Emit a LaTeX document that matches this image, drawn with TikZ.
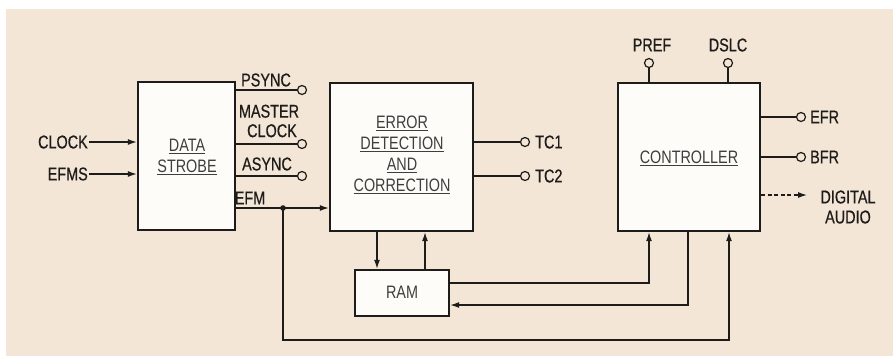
\documentclass[tikz,border=0pt]{standalone}
\usepackage{fontspec}
\setmainfont{Liberation Sans}[FakeStretch=0.8]
\newfontfamily\lblfont{Liberation Sans}[FakeStretch=0.78,FakeBold=0.6]
\usetikzlibrary{arrows.meta}
\definecolor{bg}{RGB}{243,230,214}
\definecolor{ink}{RGB}{30,28,26}
\definecolor{boxfill}{RGB}{253,252,248}
\begin{document}
\begin{tikzpicture}[x=1pt,y=-1pt,
 box/.style={draw=ink, line width=2.4pt, fill=boxfill, inner sep=0pt},
 lbl/.style={font=\lblfont\fontsize{18.5}{20}\selectfont, text=ink, inner sep=1pt},
 btxt/.style={font=\fontsize{18}{21}\selectfont, text=ink!85, align=center, inner sep=0pt},
 wire/.style={draw=ink, line width=1.2pt},
 arr/.style={wire, -{Latex[length=9pt,width=6pt]}},
 pin/.style={circle, draw=ink, line width=1.2pt, fill=bg, minimum size=9pt, inner sep=0pt},
]
\useasboundingbox (0,0) rectangle (896,359);
\fill[white] (0,0) rectangle (896,359);
\fill[bg] (6,9) rectangle (893,356);

% boxes
\node[box, minimum width=97pt, minimum height=148pt] (ds) at (186.5,156) {};
\node[btxt] (dstxt) at (187,157) {\underline{DATA}\\\underline{STROBE}};
\node[box, minimum width=143pt, minimum height=148pt] (err) at (401.5,157) {};
\node[btxt] (errtxt) at (402,155) {\underline{ERROR}\\\underline{DETECTION}\\\underline{AND}\\\underline{CORRECTION}};
\node[box, minimum width=142pt, minimum height=148pt] (ctrl) at (689,157) {};
\node[btxt] (ctrltxt) at (689,158) {\underline{CONTROLLER}};
\node[box, minimum width=94pt, minimum height=46pt] (ram) at (402,293) {};
\node[btxt] (ramtxt) at (402,292) {RAM};

% inputs
\node[lbl, anchor=east] (clk) at (89,142) {CLOCK};
\node[lbl, anchor=east] (efms) at (89,174) {EFMS};
\draw[arr] (clk) -- (ds.west |- clk);
\draw[arr] (efms) -- (ds.west |- efms);

% data strobe outputs
\node[pin] (ps) at (302,90) {};
\node[pin] (mc) at (302,144) {};
\node[pin] (as) at (302,176) {};
\draw[wire] (ds.east |- ps) -- (ps);
\draw[wire] (ds.east |- mc) -- (mc);
\draw[wire] (ds.east |- as) -- (as);
\node[lbl] (pstxt) at (266,80) {PSYNC};
\node[lbl, align=center, font=\lblfont\fontsize{18.5}{19.5}\selectfont] (mctxt) at (269,121) {MASTER\\\hspace*{6pt}CLOCK};
\node[lbl] (astxt) at (267,164) {ASYNC};
\node[lbl] (efmtxt) at (250,198) {EFM};

\coordinate (dot) at (283,208);
\draw[wire] (ds.east |- dot) -- (dot);
\draw[arr] (dot) -- (err.west |- dot);
\fill[ink] (dot) circle (2.8pt);

% error outputs
\node[pin] (tc1) at (525,142) {};
\node[pin] (tc2) at (525,176) {};
\draw[wire] (err.east |- tc1) -- (tc1);
\draw[wire] (err.east |- tc2) -- (tc2);
\node[lbl, anchor=west] (tc1txt) at (534,142) {TC1};
\node[lbl, anchor=west] (tc2txt) at (534,176) {TC2};

% error <-> RAM
\coordinate (x1) at (377,0);
\coordinate (x2) at (425,0);
\draw[arr] (err.south -| x1) -- (ram.north -| x1);
\draw[arr] (ram.north -| x2) -- (err.south -| x2);

% RAM <-> controller
\coordinate (r1) at (649,283);
\coordinate (r2) at (688,305);
\draw[arr] (ram.east |- r1) -- (r1) -- (r1 |- ctrl.south);
\draw[arr] (r2 |- ctrl.south) -- (r2) -- (ram.east |- r2);

% EFM bus to controller
\coordinate (b1) at (283,340);
\coordinate (b2) at (729,340);
\draw[arr] (dot) -- (b1) -- (b2) -- (b2 |- ctrl.south);

% controller top pins
\node[pin] (pref) at (649,63) {};
\node[pin] (dslc) at (728,63) {};
\draw[wire] (pref) -- (pref |- ctrl.north);
\draw[wire] (dslc) -- (dslc |- ctrl.north);
\node[lbl] (preftxt) at (652,45) {PREF};
\node[lbl] (dslctxt) at (728,45) {DSLC};

% controller outputs
\node[pin] (efr) at (801,117) {};
\node[pin] (bfr) at (801,157) {};
\draw[wire] (ctrl.east |- efr) -- (efr);
\draw[wire] (ctrl.east |- bfr) -- (bfr);
\node[lbl, anchor=west] (efrtxt) at (809,117) {EFR};
\node[lbl, anchor=west] (bfrtxt) at (809,157) {BFR};
\coordinate (da) at (807,195);
\draw[arr, dash pattern=on 4pt off 2.5pt] (ctrl.east |- da) -- (da);
\node[lbl, align=center, font=\lblfont\fontsize{18.5}{20}\selectfont] (datxt) at (848,207) {DIGITAL\\AUDIO};
\end{tikzpicture}
\end{document}
